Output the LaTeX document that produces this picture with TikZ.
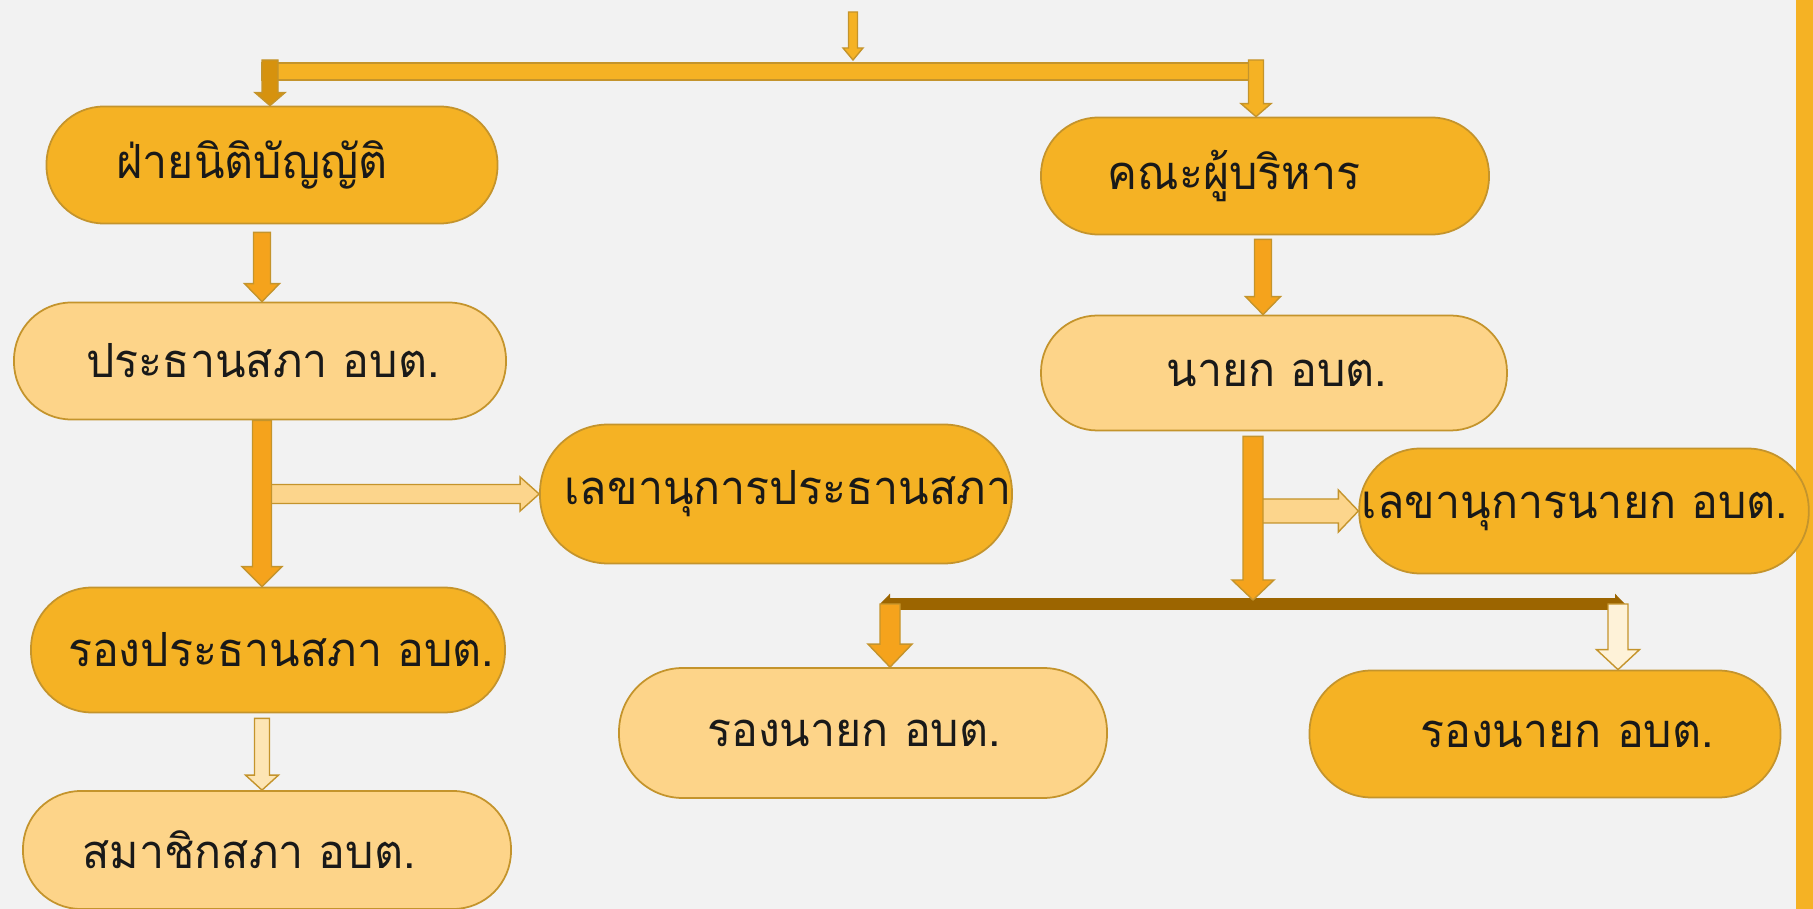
\documentclass[tikz,border=0pt]{standalone}
\usepackage{fontspec}
\newfontfamily\thaifont[Script=Thai, FakeStretch=0.95]{Loma}
\usetikzlibrary {shapes.misc,calc,arrows.meta}

\definecolor{bg}{RGB}{242,242,242}
\definecolor{nodeD}{RGB}{245,178,36}
\definecolor{nodeL}{RGB}{253,212,137}
\definecolor{edge}{RGB}{196,148,44}
\definecolor{arrD}{RGB}{245,163,28}
\definecolor{arrDD}{RGB}{214,146,14}
\definecolor{arrL}{RGB}{252,213,140}
\definecolor{arrP}{RGB}{253,229,180}
\definecolor{arrPP}{RGB}{254,242,216}
\definecolor{jbar}{RGB}{156,101,0}

% text moved sideways inside its box
\newcommand\tnudge[2]{\hspace*{#1}#2\hspace*{-#1}}

\tikzset{
    box/.style={rectangle, draw=edge, line width=0.5pt, text=black!90,
        font=\thaifont\fontsize{13.4}{16}\selectfont},
    boxD/.style={box, fill=nodeD},
    boxL/.style={box, fill=nodeL},
    sz/.style 2 args={minimum width=#1mm, minimum height=#2mm, rounded corners=0.49*#2mm},
    % block arrow: half shaft, half head, head length
    blk/.style n args={3}{draw=edge, line width=0.4pt, to path={
        ($(\tikztostart)!#1!90:(\tikztotarget)$)
        -- ($(\tikztotarget)!#3!(\tikztostart)!#1!-90:(\tikztostart)$)
        -- ($(\tikztotarget)!#3!(\tikztostart)!#2!-90:(\tikztostart)$)
        -- (\tikztotarget)
        -- ($(\tikztotarget)!#3!(\tikztostart)!#2!90:(\tikztostart)$)
        -- ($(\tikztotarget)!#3!(\tikztostart)!#1!90:(\tikztostart)$)
        -- ($(\tikztostart)!#1!-90:(\tikztotarget)$) -- cycle}},
}

\begin{document}
\begin{tikzpicture}[x=0.1mm, y=-0.1mm]
    \useasboundingbox (0, 0) rectangle (1813, 909);
    \fill[bg] (0, 0) rectangle (1813, 909);
    \fill[nodeD] (1796, 0) rectangle (1813, 909);

    \coordinate (src) at (853, 12);
    \coordinate (bl) at (270, 60);
    \coordinate (br) at (1256, 60);
    \coordinate (colL) at (262, 0);
    \coordinate (colR) at (1263, 0);
    \coordinate (jn) at (1253, 600);
    \coordinate (jl) at (890, 604);
    \coordinate (jr) at (1618, 604);

    \node[boxD, sz={45.1}{11.7}] at (272, 165)(leg){\tnudge{-2mm}{ฝ่ายนิติบัญญัติ}};
    \node[boxL, sz={49.2}{11.7}] at (260, 361)(pres){\tnudge{0.3mm}{ประธานสภา อบต.}};
    \node[boxD, sz={47.2}{13.9}] at (776, 494)(psec){\tnudge{1.2mm}{เลขานุการประธานสภา}};
    \node[boxD, sz={47.4}{12.5}] at (268, 650)(vpres){\tnudge{1.3mm}{รองประธานสภา อบต.}};
    \node[boxL, sz={48.8}{11.8}] at (267, 850)(memb){\tnudge{-1.8mm}{สมาชิกสภา อบต.}};
    \node[boxD, sz={44.8}{11.7}] at (1265, 176)(exe){\tnudge{-3.1mm}{คณะผู้บริหาร}};
    \node[boxL, sz={46.6}{11.5}] at (1274, 373)(mayor){\tnudge{0.3mm}{นายก อบต.}};
    \node[boxD, sz={44.0}{12.5}] at (1584, 511)(msec){\tnudge{-0.9mm}{เลขานุการนายก อบต.}};
    \node[boxL, sz={48.8}{13.0}] at (863, 733)(vm1){\tnudge{-0.9mm}{รองนายก อบต.}};
    \node[boxD, sz={47.1}{12.7}] at (1545, 734)(vm2){\tnudge{2.2mm}{รองนายก อบต.}};

    % top split
    \draw[edge, fill=nodeD, line width=0.4pt] ($(bl)+(-8, 3)$) rectangle ($(br)+(7, 20)$);
    \path[blk={0.45mm}{1.0mm}{1.2mm}, fill=nodeD] (src) to (src |- bl);
    \path[blk={0.8mm}{1.5mm}{1.3mm}, fill=arrDD] (bl) to (bl |- leg.north);
    \path[blk={0.75mm}{1.5mm}{1.3mm}, fill=nodeD] (br) to (br |- exe.north);

    % left side
    \path[blk={0.85mm}{1.75mm}{1.8mm}, fill=arrD] ([yshift=-0.8mm]leg.south -| colL) to (pres.north -| colL);
    \path[blk={0.95mm}{1.7mm}{1.9mm}, fill=arrL] (colL |- psec.west) to (psec.west);
    \path[blk={0.95mm}{2.0mm}{2.0mm}, fill=arrD] (pres.south -| colL) to (vpres.north -| colL);
    \path[blk={0.75mm}{1.65mm}{1.5mm}, fill=arrP] ([yshift=-0.5mm]vpres.south -| colL) to (memb.north -| colL);

    % right side
    \path[blk={0.85mm}{1.75mm}{1.8mm}, fill=arrD] ([yshift=-0.4mm]exe.south -| colR) to (mayor.north -| colR);
    \draw[jbar, line width=1.2mm, {Triangle[width=2mm, length=1mm]}-{Triangle[width=2mm, length=1mm]}]
        ([xshift=-1mm]jl) -- ([xshift=0.7mm]jr);
    \path[blk={1.2mm}{2.1mm}{2.0mm}, fill=arrL] (jn |- msec.west) to (msec.west);
    \path[blk={1.0mm}{2.1mm}{2.0mm}, fill=arrD] ([yshift=-0.5mm]mayor.south -| jn) to (jn);
    \path[blk={1.0mm}{2.2mm}{2.3mm}, fill=arrD] (jl) to (jl |- vm1.north);
    \path[blk={1.0mm}{2.15mm}{2.0mm}, fill=arrPP] (jr) to (jr |- vm2.north);
\end{tikzpicture}
\end{document}
